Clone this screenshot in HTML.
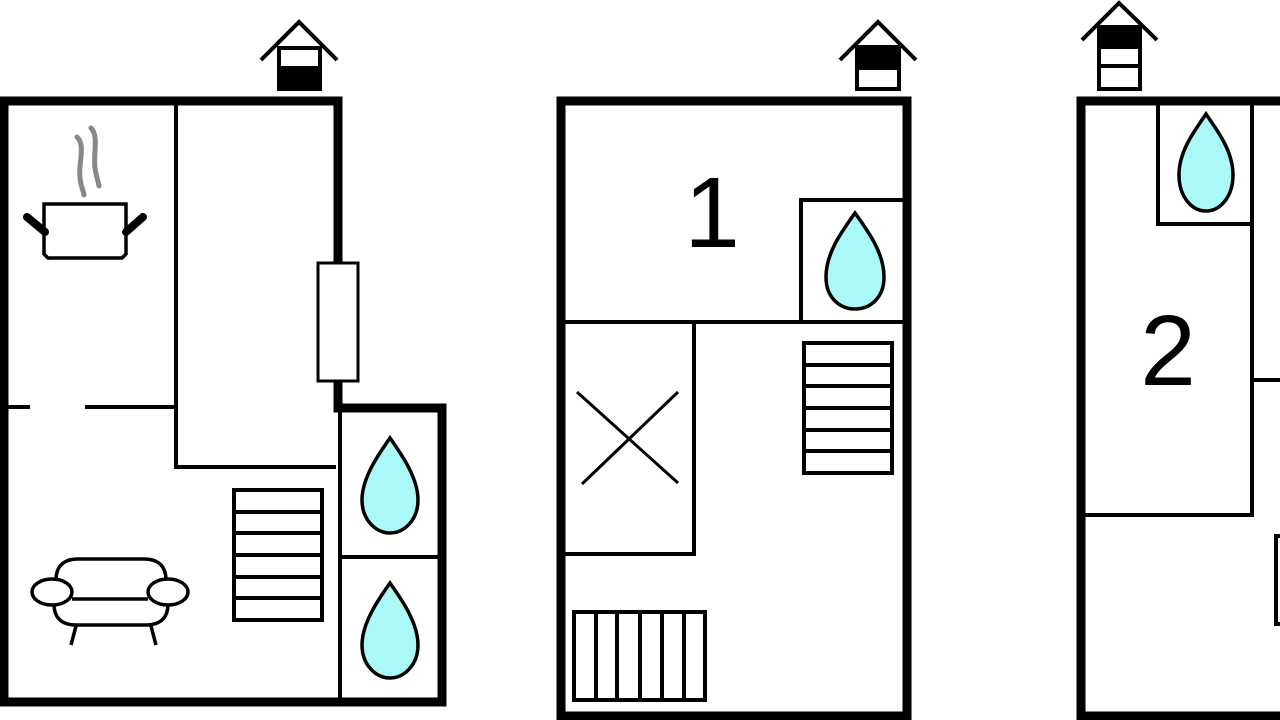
<!DOCTYPE html>
<html><head><style>html,body{margin:0;padding:0;background:#fff;}svg{display:block}</style></head>
<body>
<svg width="1280" height="720" viewBox="0 0 1280 720" xmlns="http://www.w3.org/2000/svg" fill="none" stroke="#000">
<!-- PLAN 1 -->
<g stroke-linecap="butt">
<path d="M0,101 H338 V262" stroke-width="9"/>
<path d="M338,382 V408 H442 V702 H0" stroke-width="9"/>
<line x1="4" y1="97" x2="4" y2="706" stroke-width="9"/>
<rect x="318" y="263" width="40" height="118" stroke-width="3"/>
<path d="M176,104 V467 H336" stroke-width="4"/>
<path d="M0,407 H30 M85,407 H176" stroke-width="4"/>
<path d="M340,410 V700 M340,557 H438" stroke-width="4"/>
<rect x="234" y="490" width="88" height="130" stroke-width="4"/>
<path d="M234,512 H322 M234,533 H322 M234,555 H322 M234,577 H322 M234,598 H322" stroke-width="4"/>
</g>
<!-- pot -->
<path d="M44,204 H126 V254 L122,258 H48 L44,254 Z" stroke-width="3.5"/>
<path d="M27,217 L45,232 M143,217 L126,232" stroke-width="8" stroke-linecap="round"/>
<path d="M77,137 C86,145 78,165 80,178 C81,188 84,192 84,195 M91,128 C99,136 93,155 95,168 C96,176 98,180 99,186" stroke="#888" stroke-width="5" stroke-linecap="round"/>
<!-- sofa -->
<g stroke-width="3.5">
<path d="M56,580 C56,566 64,559 78,559 H144 C158,559 166,566 166,580"/>
<path d="M72,599 H148"/>
<path d="M54,604 C54,618 62,625 76,625 H146 C160,625 168,618 168,604"/>
<ellipse cx="52" cy="592" rx="20" ry="13" fill="#fff"/>
<ellipse cx="168" cy="592" rx="20" ry="13" fill="#fff"/>
<path d="M76,626 L71,645 M151,626 L156,645"/>
</g>
<!-- drops -->
<g fill="#aaf8f8" stroke-width="3.5">
<path d="M390,438 C378,455 362,478 362,500 C362,520 376,533 390,533 C404,533 418,520 418,500 C418,478 402,455 390,438 Z"/>
<path d="M390,583 C378,600 362,623 362,645 C362,665 376,678 390,678 C404,678 418,665 418,645 C418,623 402,600 390,583 Z"/>
<path d="M855,213 C843,230 826,252 826,277 C826,298 840,309 855,309 C870,309 884,298 884,277 C884,252 867,230 855,213 Z"/>
<path d="M1206,114 C1196,129 1179,150 1179,175 C1179,197 1192,211 1206,211 C1220,211 1233,197 1233,175 C1233,150 1216,129 1206,114 Z"/>
</g>
<!-- houses -->
<g stroke-width="4">
<path d="M261,60 L299,22 L337,60"/>
<rect x="279" y="48" width="41" height="41" fill="#fff"/>
<rect x="279" y="68" width="41" height="21" fill="#000"/>
<path d="M840,60 L878,22 L916,60"/>
<rect x="857" y="47" width="42" height="42" fill="#fff"/>
<rect x="857" y="47" width="42" height="21" fill="#000"/>
<path d="M1082,40 L1119,3 L1157,40"/>
<rect x="1099" y="27" width="41" height="62" fill="#fff"/>
<rect x="1099" y="27" width="41" height="20" fill="#000"/>
<path d="M1099,66 H1140"/>
</g>
<!-- PLAN 2 -->
<rect x="561" y="101" width="346" height="615" stroke-width="9"/>
<g stroke-width="4">
<path d="M565,322 H903 M801,322 V200 H903"/>
<path d="M565,554 H694 V322"/>
<path d="M577,392 L678,483 M678,392 L582,484" stroke-width="3"/>
<rect x="804" y="343" width="88" height="130"/>
<path d="M804,365 H892 M804,386 H892 M804,408 H892 M804,430 H892 M804,451 H892"/>
<rect x="574" y="612" width="131" height="88"/>
<path d="M596,612 V700 M617,612 V700 M640,612 V700 M662,612 V700 M684,612 V700"/>
</g>
<!-- PLAN 3 -->
<path d="M1081,725 V101 H1290" stroke-width="9"/>
<path d="M1081,716 H1290" stroke-width="9"/>
<g stroke-width="4">
<path d="M1158,104 V224 H1252 M1252,104 V515 H1085 M1252,380 H1285"/>
<rect x="1276" y="536" width="20" height="88"/>
</g>
<g fill="#000" stroke="none" font-family="Liberation Sans, sans-serif">
<text x="712" y="247" font-size="100" text-anchor="middle">1</text>
<text x="1168" y="385" font-size="100" text-anchor="middle">2</text>
</g>
</svg>
</body></html>
